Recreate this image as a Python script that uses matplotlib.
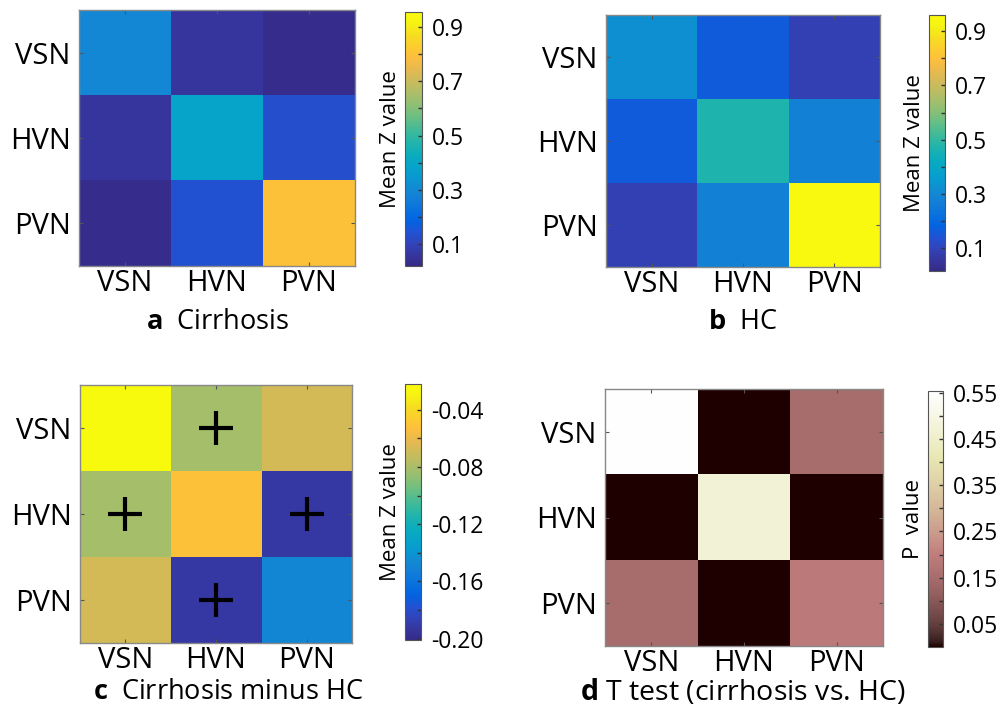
import matplotlib

matplotlib.use("Agg")
import matplotlib.pyplot as plt
import numpy as np
from matplotlib.colors import LinearSegmentedColormap

plt.rcParams["font.family"] = ["Open Sans", "DejaVu Sans"]
plt.rcParams["mathtext.fontset"] = "custom"
plt.rcParams["mathtext.bf"] = "Open Sans:bold"
plt.rcParams["mathtext.rm"] = "Open Sans"

NETWORKS = ["VSN", "HVN", "PVN"]

# mean Z values, rows/cols in NETWORKS order
cirrhosis = [[0.30, 0.06, 0.03],
             [0.06, 0.39, 0.13],
             [0.03, 0.14, 0.80]]
hc = [[0.32, 0.16, 0.09],
      [0.16, 0.47, 0.28],
      [0.09, 0.28, 0.955]]
diff = [[-0.022, -0.082, -0.068],
        [-0.082, -0.052, -0.192],
        [-0.068, -0.192, -0.148]]
p_values = [[0.55, 0.001, 0.15],
            [0.001, 0.47, 0.001],
            [0.15, 0.001, 0.19]]
# cells of panel c marked with "+" (row, col)
marked = [(0, 1), (1, 0), (1, 2), (2, 1)]

# approximate MATLAB parula
parula_pts = [
    (0.2081, 0.1663, 0.5292), (0.2123, 0.2138, 0.6270), (0.1959, 0.2645, 0.7279),
    (0.1253, 0.3242, 0.8303), (0.0117, 0.3875, 0.8820), (0.0329, 0.4430, 0.8720),
    (0.0723, 0.4887, 0.8467), (0.0749, 0.5375, 0.8263), (0.0343, 0.5966, 0.8199),
    (0.0231, 0.6418, 0.7913), (0.0384, 0.6743, 0.7436), (0.1133, 0.7015, 0.6859),
    (0.2178, 0.7250, 0.6193), (0.3482, 0.7424, 0.5473), (0.4871, 0.7491, 0.4840),
    (0.6099, 0.7473, 0.4337), (0.7184, 0.7411, 0.3905), (0.8185, 0.7327, 0.3498),
    (0.9139, 0.7258, 0.3063), (0.9938, 0.7455, 0.2403), (0.9880, 0.8066, 0.1794),
    (0.9626, 0.8705, 0.1309), (0.9661, 0.9514, 0.0755), (0.9763, 0.9831, 0.0538),
]
parula = LinearSegmentedColormap.from_list("parula", parula_pts, N=256)

W, H = 1005, 708


def rect(x0, y0, x1, y1):
    return [x0 / W, 1 - y1 / H, (x1 - x0) / W, (y1 - y0) / H]


def heatmap(fig, ax_box, cb_box, data, cmap, vmin, vmax, ticks, labels, cblabel):
    ax = fig.add_axes(rect(*ax_box))
    im = ax.imshow(np.array(data), cmap=cmap, vmin=vmin, vmax=vmax, aspect="auto",
                   interpolation="nearest")
    ax.set_xticks(range(3), NETWORKS)
    ax.set_yticks(range(3), NETWORKS)
    ax.tick_params(direction="in", length=3, color="#555555", labelsize=21,
                   top=True, right=True)
    ax.tick_params(axis="x", pad=2)
    ax.tick_params(axis="y", pad=6)
    for s in ax.spines.values():
        s.set_color("#888888")
        s.set_linewidth(1.0)
    cax = fig.add_axes(rect(*cb_box))
    cb = fig.colorbar(im, cax=cax)
    cb.set_ticks(ticks)
    cb.set_ticklabels(labels)
    cb.outline.set_edgecolor("#555555")
    cax.tick_params(direction="in", length=3, width=1, color="#333333",
                    labelsize=16.5, pad=7)
    cax.yaxis.set_label_position("left")
    cb.set_label(cblabel, fontsize=16, labelpad=3)
    return ax


fig = plt.figure(figsize=(W / 100, H / 100), dpi=100)

t_a = np.round(np.arange(0.1, 0.95, 0.1), 2)
lab_a = [f"{t:.1f}" if i % 2 == 0 else "" for i, t in enumerate(t_a)]
heatmap(fig, (79, 10, 355, 266), (405, 12, 422, 266), cirrhosis, parula,
        0.02, 0.955, t_a, lab_a, "Mean Z value")
heatmap(fig, (606, 15, 880, 267), (929, 15, 945, 271), hc, parula,
        0.015, 0.96, t_a, lab_a, "Mean Z value")

t_c = np.round(np.arange(-0.20, -0.021, 0.02), 2)
lab_c = [f"{t:.2f}" if i % 2 == 0 else "" for i, t in enumerate(t_c)]
ax_c = heatmap(fig, (80, 385, 352, 643), (405, 384, 421, 640), diff, parula,
               -0.201, -0.022, t_c, lab_c, "Mean Z value")
for r, c in marked:
    ax_c.plot(c, r, marker="+", color="black", markersize=24, mew=3)

t_d = np.round(np.arange(0.05, 0.56, 0.05), 2)
lab_d = [f"{t:.2f}" if i % 2 == 0 else "" for i, t in enumerate(t_d)]
heatmap(fig, (605, 389, 883, 646), (928, 391, 943, 647), p_values, "pink",
        0.0, 0.554, t_d, lab_d, "P  value")

caps = [(218, 322, r"$\bf{a}$  Cirrhosis", 19.5),
        (743, 322, r"$\bf{b}$  HC", 19.5),
        (228, 692, r"$\bf{c}$  Cirrhosis minus HC", 19.5),
        (743, 692, r"$\bf{d}$ T test (cirrhosis vs. HC)", 20.5)]
for x, y, s, fs in caps:
    fig.text(x / W, 1 - y / H, s, ha="center", va="center", fontsize=fs)

fig.savefig("out.png", dpi=100)
plt.close(fig)
